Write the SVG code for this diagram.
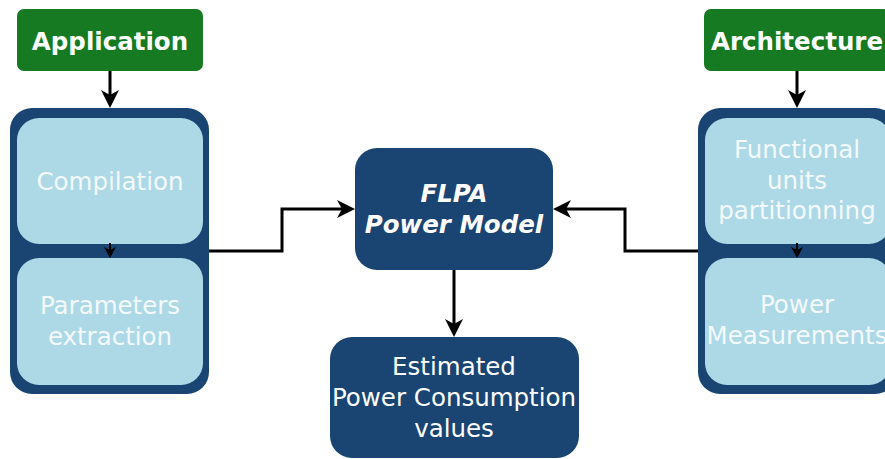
<svg xmlns="http://www.w3.org/2000/svg" width="885" height="459" viewBox="0 0 885 459">
<defs>
<style>
.src{fill:#157a22}
.cont{fill:#1a4472}
.inner{fill:#add8e6}
.dark{fill:#1a4472}
.t{font-family:"DejaVu Sans",sans-serif;font-size:24.5px;text-anchor:middle}
.tb{font-weight:bold;fill:#ffffff}
.tl{fill:#f4f9fc}
.tw{fill:#ffffff}
.ti{font-weight:bold;font-style:italic;fill:#ffffff}
.con{fill:none;stroke:#000;stroke-width:3}
</style>
<marker id="ah" markerUnits="userSpaceOnUse" viewBox="-10 -10 22 20" markerWidth="22" markerHeight="20" refX="0" refY="0" orient="auto">
<path d="M10,0 L-8,-9 L-3,0 L-8,9 Z" fill="#000"/>
</marker>
<marker id="ahs" markerUnits="userSpaceOnUse" viewBox="-8 -6 16 12" markerWidth="16" markerHeight="12" refX="0" refY="0" orient="auto">
<path d="M6,0 L-5,-6 L-2,0 L-5,6 Z" fill="#000"/>
</marker>
</defs>

<g id="application">
<rect class="src" x="17" y="9" width="186" height="62" rx="7"/>
<text class="t tb" x="110" y="50">Application</text>
</g>

<g id="architecture">
<rect class="src" x="704" y="9" width="186" height="62" rx="7"/>
<text class="t tb" x="797" y="50">Architecture</text>
</g>

<g id="app-container">
<rect class="cont" x="10" y="108" width="199" height="286" rx="22"/>
</g>
<g id="compilation">
<rect class="inner" x="17" y="118" width="186" height="126" rx="22"/>
<text class="t tl" x="110" y="190">Compilation</text>
</g>
<g id="parameters">
<rect class="inner" x="17" y="258" width="186" height="127" rx="22"/>
<text class="t tl" x="110" y="314">Parameters</text>
<text class="t tl" x="110" y="345">extraction</text>
</g>

<g id="arch-container">
<rect class="cont" x="698" y="108" width="199" height="286" rx="22"/>
</g>
<g id="functional">
<rect class="inner" x="705" y="118" width="186" height="126" rx="22"/>
<text class="t tl" x="797" y="158">Functional</text>
<text class="t tl" x="797" y="189">units</text>
<text class="t tl" x="797" y="219">partitionning</text>
</g>
<g id="measurements">
<rect class="inner" x="705" y="258" width="186" height="127" rx="22"/>
<text class="t tl" x="797" y="313">Power</text>
<text class="t tl" x="797" y="344">Measurements</text>
</g>

<g id="flpa">
<rect class="dark" x="355" y="148" width="198" height="122" rx="22"/>
<text class="t ti" x="454" y="202">FLPA</text>
<text class="t ti" x="454" y="233">Power Model</text>
</g>

<g id="estimated">
<rect class="dark" x="330" y="337" width="249" height="121" rx="22"/>
<text class="t tw" x="454" y="375">Estimated</text>
<text class="t tw" x="454" y="406">Power Consumption</text>
<text class="t tw" x="454" y="437">values</text>
</g>

<g id="connectors">
<path class="con" d="M110,71 V98" marker-end="url(#ah)"/>
<path class="con" d="M797,71 V98" marker-end="url(#ah)"/>
<path class="con" d="M110,243 V252" marker-end="url(#ahs)" style="stroke-width:2"/>
<path class="con" d="M797,243 V252" marker-end="url(#ahs)" style="stroke-width:2"/>
<path class="con" d="M209,251 H282 V209 H345" marker-end="url(#ah)"/>
<path class="con" d="M698,251 H625 V209 H563" marker-end="url(#ah)"/>
<path class="con" d="M454,270 V327" marker-end="url(#ah)"/>
</g>
</svg>
